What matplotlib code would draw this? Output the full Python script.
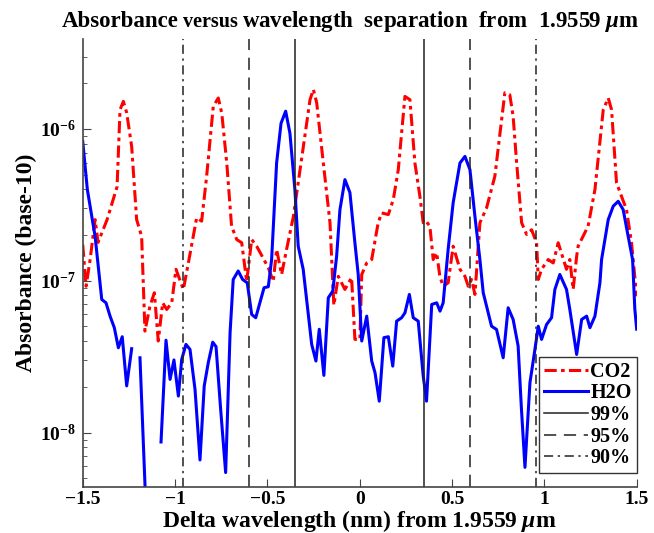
import numpy as np
import matplotlib.pyplot as plt
from matplotlib.ticker import LogLocator, NullFormatter

plt.rcParams['font.family'] = ['Liberation Serif', 'DejaVu Serif']
plt.rcParams['font.weight'] = 'bold'
plt.rcParams['mathtext.fontset'] = 'custom'
plt.rcParams['mathtext.rm'] = 'Liberation Serif:bold'
plt.rcParams['mathtext.bf'] = 'Liberation Serif:bold'
plt.rcParams['mathtext.it'] = 'Liberation Serif:bold:italic'

# CO2 absorbance vs delta wavelength (nm)
co2_x = [-1.500, -1.482, -1.460, -1.433, -1.417, -1.368, -1.314, -1.298, -1.280, -1.262,
         -1.235, -1.208, -1.181, -1.163, -1.136, -1.112, -1.091, -1.067, -1.045, -1.018,
         -0.995, -0.955, -0.928, -0.883, -0.856, -0.829, -0.793, -0.766, -0.747, -0.720,
         -0.694, -0.666, -0.639, -0.612, -0.585, -0.558, -0.531, -0.495, -0.468, -0.450,
         -0.423, -0.396, -0.359, -0.314, -0.269, -0.251, -0.233, -0.197, -0.161, -0.140,
         -0.116, -0.080, -0.044, -0.026, 0.001, 0.011, 0.038, 0.065, 0.100, 0.119,
         0.155, 0.182, 0.209, 0.245, 0.272, 0.299, 0.326, 0.344, 0.359, 0.380,
         0.398, 0.417, 0.434, 0.452, 0.479, 0.506, 0.543, 0.570, 0.588, 0.606,
         0.624, 0.651, 0.687, 0.732, 0.786, 0.813, 0.831, 0.850, 0.877, 0.904,
         0.931, 0.958, 0.967, 0.985, 1.021, 1.048, 1.075, 1.095, 1.120, 1.138,
         1.156, 1.175, 1.183, 1.237, 1.274, 1.319, 1.346, 1.364, 1.391, 1.418,
         1.445, 1.472, 1.500]
co2_y = [1.73e-7, 9.2e-8, 1.38e-7, 2.53e-7, 1.79e-7, 2.53e-7, 4.17e-7, 1.34e-6, 1.52e-6, 1.28e-6,
         7.68e-7, 2.53e-7, 1.96e-7, 4.66e-8, 6.81e-8, 8.34e-8, 4.01e-8, 7.16e-8, 6.47e-8, 7.16e-8,
         1.19e-7, 8.77e-8, 1.31e-7, 2.60e-7, 2.47e-7, 4.88e-7, 1.41e-6, 1.60e-6, 1.27e-6, 5.98e-7,
         2.29e-7, 1.87e-7, 1.78e-7, 9.9e-8, 1.87e-7, 1.69e-7, 1.47e-7, 1.22e-7, 9.9e-8, 1.61e-7,
         1.10e-7, 1.61e-7, 2.66e-7, 6.44e-7, 1.56e-6, 1.82e-6, 1.49e-6, 5.97e-7, 2.42e-7, 6.9e-8,
         1.07e-7, 8.77e-8, 1.05e-7, 4.11e-8, 4.11e-8, 1.10e-7, 1.31e-7, 1.38e-7, 2.41e-7, 2.80e-7,
         2.73e-7, 3.43e-7, 5.40e-7, 1.64e-6, 1.56e-6, 5.97e-7, 3.60e-7, 2.41e-7, 2.47e-7, 2.29e-7,
         1.38e-7, 1.53e-7, 1.07e-7, 9.2e-8, 9.7e-8, 1.69e-7, 1.19e-7, 1.07e-7, 9.2e-8, 1.02e-7,
         8.13e-8, 2.41e-7, 3.02e-7, 4.88e-7, 1.73e-6, 1.68e-6, 1.21e-6, 5.97e-7, 2.41e-7, 2.02e-7,
         2.17e-7, 1.78e-7, 1.02e-7, 1.19e-7, 1.38e-7, 1.31e-7, 1.78e-7, 1.49e-7, 1.19e-7, 1.38e-7,
         8.77e-8, 1.45e-7, 1.69e-7, 2.29e-7, 3.99e-7, 1.34e-6, 1.60e-6, 1.34e-6, 4.42e-7, 3.60e-7,
         2.94e-7, 1.78e-7, 7.9e-8]

# H2O absorbance (nan = missing / non-positive value)
h2o_x = [-1.500, -1.475, -1.433, -1.397, -1.374, -1.352, -1.329, -1.307, -1.286, -1.262,
         -1.235, -1.210, -1.190, -1.157, -1.130, -1.100, -1.076, -1.049, -1.027, -1.006,
         -0.982, -0.964, -0.941, -0.919, -0.892, -0.865, -0.842, -0.820, -0.796, -0.778,
         -0.753, -0.726, -0.702, -0.685, -0.658, -0.634, -0.609, -0.585, -0.563, -0.518,
         -0.495, -0.477, -0.450, -0.426, -0.401, -0.378, -0.351, -0.333, -0.306, -0.260,
         -0.237, -0.219, -0.194, -0.170, -0.146, -0.125, -0.107, -0.080, -0.053, -0.026,
         -0.008, 0.011, 0.038, 0.065, 0.083, 0.106, 0.131, 0.155, 0.179, 0.200,
         0.227, 0.245, 0.269, 0.290, 0.317, 0.344, 0.362, 0.390, 0.417, 0.435,
         0.452, 0.479, 0.506, 0.543, 0.570, 0.597, 0.624, 0.651, 0.669, 0.714,
         0.741, 0.777, 0.804, 0.831, 0.858, 0.875, 0.895, 0.922, 0.949, 0.967,
         0.985, 1.012, 1.039, 1.057, 1.084, 1.120, 1.138, 1.175, 1.202, 1.229,
         1.247, 1.274, 1.301, 1.310, 1.346, 1.373, 1.400, 1.427, 1.454, 1.478,
         1.490, 1.500]
h2o_y = [8.28e-7, 3.99e-7, 1.96e-7, 7.53e-8, 7.16e-8, 5.85e-8, 4.91e-8, 3.62e-8, 4.28e-8, 2.03e-8,
         3.57e-8, np.nan, 3.11e-8, 3.0e-9, np.nan, np.nan, 8.67e-9, 4.06e-8, 2.24e-8, 3.01e-8,
         1.74e-8, 3.03e-8, 3.81e-8, 3.53e-8, 1.93e-8, 6.6e-9, 2.03e-8, 2.89e-8, 3.94e-8, 3.68e-8,
         1.42e-8, 5.45e-9, 4.55e-8, 1.02e-7, 1.16e-7, 1.02e-7, 9.7e-8, 6.0e-8, 5.71e-8, 9.0e-8,
         9.14e-8, 1.38e-7, 5.97e-7, 1.09e-6, 1.31e-6, 9.4e-7, 3.99e-7, 1.69e-7, 1.19e-7, 3.81e-8,
         2.96e-8, 4.79e-8, 2.38e-8, 7.73e-8, 8.55e-8, 1.45e-7, 2.94e-7, 4.64e-7, 3.81e-7, 1.78e-7,
         1.10e-7, 4.01e-8, 5.85e-8, 2.96e-8, 2.48e-8, 1.61e-8, 4.22e-8, 4.28e-8, 2.74e-8, 5.42e-8,
         5.71e-8, 6.15e-8, 8.13e-8, 5.71e-8, 5.42e-8, 2.36e-8, 1.61e-8, 6.98e-8, 7.16e-8, 6.31e-8,
         7.16e-8, 1.61e-7, 3.26e-7, 5.97e-7, 6.6e-7, 5.40e-7, 2.66e-7, 1.38e-7, 8.34e-8, 5.02e-8,
         4.78e-8, 3.11e-8, 6.64e-8, 5.56e-8, 3.72e-8, 1.50e-8, 5.9e-9, 2.13e-8, 3.53e-8, 5.02e-8,
         4.11e-8, 5.15e-8, 5.71e-8, 8.77e-8, 1.10e-7, 8.77e-8, 6.47e-8, 3.27e-8, 5.56e-8, 5.85e-8,
         4.91e-8, 5.85e-8, 9.7e-8, 1.38e-7, 2.53e-7, 3.10e-7, 3.34e-7, 2.94e-7, 1.96e-7, 1.38e-7,
         6.5e-8, 4.8e-8]

# confidence boundaries (nm)
lim99 = 0.35
lim95 = 0.60
lim90 = 0.955

W, H = 654, 533
fig = plt.figure(figsize=(W / 100, H / 100), dpi=100)
ax = fig.add_axes([0.1265, 0.0869, 0.847, 0.8394])

ax.semilogy(co2_x, co2_y, color='red', lw=2.2, ls=(0, (4, 1.4, 1.2, 1.4)), label='CO2')
ax.semilogy(h2o_x, h2o_y, color='blue', lw=2.2, label='H2O')
ax.axvline(-lim99, color='#222222', lw=1.1, label='99%')
ax.axvline(lim99, color='#222222', lw=1.1)
ax.axvline(-lim95, color='#222222', lw=1.1, ls=(0, (8, 5)), label='95%')
ax.axvline(lim95, color='#222222', lw=1.1, ls=(0, (8, 5)))
ax.axvline(-lim90, color='#222222', lw=1.1, ls=(0, (6, 3, 1.5, 3)), label='90%')
ax.axvline(lim90, color='#222222', lw=1.1, ls=(0, (6, 3, 1.5, 3)))

ax.set_xlim(-1.5, 1.5)
ax.set_ylim(4.4e-9, 3.9e-6)
ax.set_xticks([-1.5, -1, -0.5, 0, 0.5, 1, 1.5])
ax.set_xticklabels(['\u22121.5', '\u22121', '\u22120.5', '0', '0.5', '1', '1.5'])
ax.yaxis.set_major_locator(LogLocator(base=10, numticks=10))
ax.yaxis.set_minor_locator(LogLocator(base=10, subs=np.arange(2, 10), numticks=20))
ax.yaxis.set_minor_formatter(NullFormatter())

for s in ['top', 'right']:
    ax.spines[s].set_visible(False)
for s in ['left', 'bottom']:
    ax.spines[s].set_color('#444444')
    ax.spines[s].set_linewidth(1.2)
ax.tick_params(which='both', direction='in', colors='#444444', labelcolor='black',
               labelsize=14)
ax.tick_params(axis='x', pad=3)
ax.tick_params(axis='y', pad=5)
ax.tick_params(which='major', length=6)
ax.tick_params(which='minor', length=3)

ax.set_xlabel('Delta wavelength (nm) from 1.9559 $\\mu$m', fontsize=17, fontweight='bold', labelpad=0)
ax.set_ylabel('Absorbance (base-10)', fontsize=17, fontweight='bold', labelpad=2)

# title built word group by word group ("versus" set narrower)
renderer = fig.canvas.get_renderer()
pieces = [('Absorbance', 16.5, 'normal'), ('versus', 14.5, 'condensed'),
          ('wavelength  separation  from  1.9559 $\\mu$m', 16.5, 'normal')]
x0 = 62 / W
for txt, size, stretch in pieces:
    t = fig.text(x0, 1 - 27 / H, txt, fontsize=size, fontweight='bold',
                 fontstretch=stretch, va='baseline', ha='left')
    bb = t.get_window_extent(renderer)
    x0 = (bb.x1 + 4) / W

leg = ax.legend(loc='lower right', bbox_to_anchor=(1.0, 0.03), borderaxespad=0,
                fancybox=False, edgecolor='#333333', fontsize=14.5, handlelength=2.2,
                handletextpad=0.1, labelspacing=0.08, borderpad=0.25, framealpha=1)
leg.get_frame().set_linewidth(1.0)

fig.savefig('out.png', dpi=100)
